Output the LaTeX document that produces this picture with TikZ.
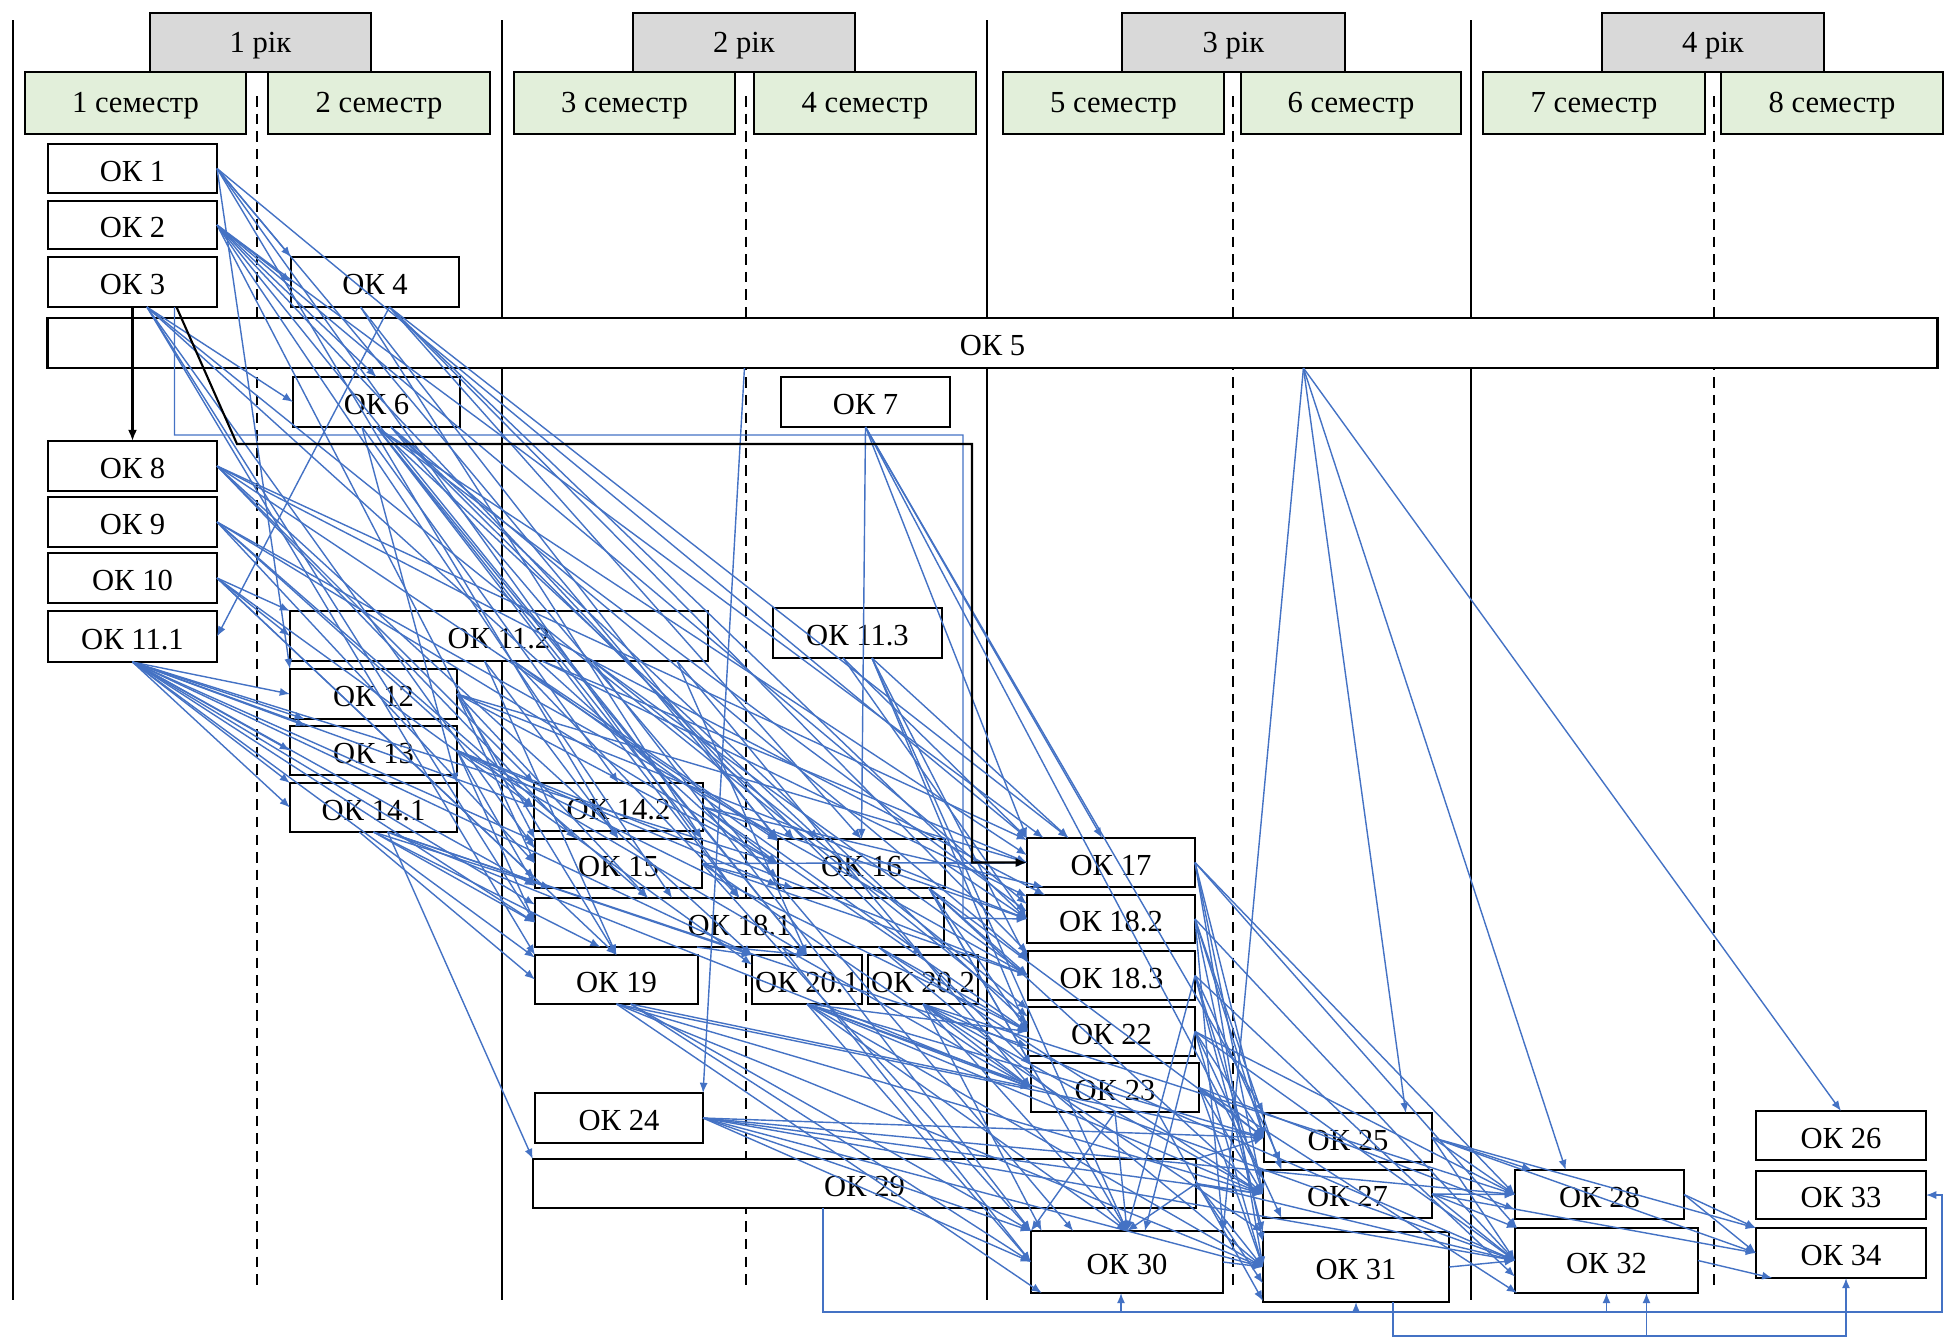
\documentclass[tikz,border=0pt]{standalone}
\usepackage{fontspec}
\setmainfont{Liberation Serif}
\usetikzlibrary{arrows.meta,calc}
\definecolor{bl}{HTML}{4472C4}
\definecolor{yr}{HTML}{D9D9D9}
\definecolor{sm}{HTML}{E2EFDA}
\newcommand\bx[7][]{\node[box,#1,minimum width={(#5-#3)*0.284528pt},minimum height={(#6-#4)*0.284528pt}] (#2) at ({(#3+#5)/2},{(#4+#6)/2}) {\raisebox{-0.8pt}[\height][\depth]{#7}};}
\begin{document}
\begin{tikzpicture}[x=0.01cm,y=-0.01cm,
  box/.style={draw=black,line width=0.7pt,fill=white,inner sep=0pt,outer sep=0pt,font=\fontsize{8.7}{10}\selectfont},
  yrbox/.style={fill=yr},
  smbox/.style={fill=sm,line width=0.8pt},
  colline/.style={line width=0.7pt},
  semline/.style={line width=0.7pt,dash pattern=on 3pt off 2pt},
  e/.style={draw=bl,line width=0.4pt,-{Latex[length=2.9pt,width=2.3pt]}},
  blk/.style={draw=black,line width=0.6pt,-{Latex[length=3.2pt,width=2.6pt]}}]
\useasboundingbox (0,0) rectangle (1948,1341);
% column lines
\foreach \x in {13,502,987,1471} \draw[colline] (\x,20) -- (\x,1300);
\foreach \x in {257,746,1233,1714} \draw[semline] (\x,96) -- (\x,1290);
% years
\bx[yrbox]{y1}{150}{13}{371}{72}{1 рік}
\bx[yrbox]{y2}{633}{13}{855}{72}{2 рік}
\bx[yrbox]{y3}{1122}{13}{1345}{72}{3 рік}
\bx[yrbox]{y4}{1602}{13}{1824}{72}{4 рік}
% semesters
\bx[smbox]{s1}{25}{72}{246}{134}{1 семестр}
\bx[smbox]{s2}{268}{72}{490}{134}{2 семестр}
\bx[smbox]{s3}{514}{72}{735}{134}{3 семестр}
\bx[smbox]{s4}{754}{72}{976}{134}{4 семестр}
\bx[smbox]{s5}{1003}{72}{1224}{134}{5 семестр}
\bx[smbox]{s6}{1241}{72}{1461}{134}{6 семестр}
\bx[smbox]{s7}{1483}{72}{1705}{134}{7 семестр}
\bx[smbox]{s8}{1721}{72}{1943}{134}{8 семестр}
% courses
\bx{ok1}{48}{144}{217}{193}{ОК 1}
\bx{ok2}{48}{201}{217}{249}{ОК 2}
\bx{ok3}{48}{257}{217}{307}{ОК 3}
\bx{ok4}{291}{257}{459}{307}{ОК 4}
\bx{ok5}{48}{318}{1937}{368}{ОК 5}
\bx{ok6}{293}{377}{460}{427}{ОК 6}
\bx{ok7}{781}{377}{950}{427}{ОК 7}
\bx{ok8}{48}{441}{217}{491}{ОК 8}
\bx{ok9}{48}{497}{217}{547}{ОК 9}
\bx{ok10}{48}{553}{217}{603}{ОК 10}
\bx{ok111}{48}{611}{217}{662}{ОК 11.1}
\bx{ok112}{290}{611}{708}{661}{ОК 11.2}
\bx{ok113}{773}{608}{942}{658}{ОК 11.3}
\bx{ok12}{290}{669}{457}{719}{ОК 12}
\bx{ok13}{290}{726}{457}{775}{ОК 13}
\bx{ok141}{290}{783}{457}{832}{ОК 14.1}
\bx{ok142}{534}{783}{703}{831}{ОК 14.2}
\bx{ok15}{535}{839}{702}{888}{ОК 15}
\bx{ok16}{778}{839}{945}{888}{ОК 16}
\bx{ok17}{1027}{838}{1195}{887}{ОК 17}
\bx{ok181}{535}{898}{944}{947}{ОК 18.1}
\bx{ok182}{1027}{895}{1195}{943}{ОК 18.2}
\bx{ok19}{535}{955}{698}{1004}{ОК 19}
\bx{ok201}{752}{955}{862}{1004}{ОК 20.1}
\bx{ok202}{868}{955}{978}{1004}{ОК 20.2}
\bx{ok183}{1028}{951}{1195}{1000}{ОК 18.3}
\bx{ok22}{1028}{1007}{1195}{1056}{ОК 22}
\bx{ok23}{1031}{1063}{1199}{1112}{ОК 23}
\bx{ok24}{535}{1093}{703}{1143}{ОК 24}
\bx{ok29}{533}{1159}{1196}{1208}{ОК 29}
\bx{ok30}{1031}{1231}{1223}{1293}{ОК 30}
\bx{ok25}{1264}{1113}{1432}{1162}{ОК 25}
\bx{ok27}{1263}{1170}{1432}{1218}{ОК 27}
\bx{ok31}{1263}{1232}{1449}{1302}{ОК 31}
\bx{ok28}{1515}{1170}{1684}{1219}{ОК 28}
\bx{ok32}{1515}{1228}{1698}{1293}{ОК 32}
\bx{ok26}{1756}{1111}{1926}{1160}{ОК 26}
\bx{ok33}{1756}{1171}{1926}{1219}{ОК 33}
\bx{ok34}{1756}{1228}{1926}{1278}{ОК 34}
% blue links
\foreach \a/\b in {
 ok1.east/ok4.north west, ok1.east/ok12.north west, ok1.east/ok15.north, ok1.east/ok16.north west, ok1.east/ok181.north, ok1.east/ok17.north west,
 ok2.east/ok4.west, ok2.east/ok6.north, ok2.east/ok15.north west, ok2.east/ok16.160, ok2.east/ok17.160, ok2.east/ok181.160, ok2.east/ok201.north, ok2.east/ok182.170,
 ok3.-60/ok6.west, ok3.-60/ok15.170, ok3.-60/ok181.west, ok3.-60/ok19.north west, ok3.-60/ok16.190, ok3.-60/ok22.170,
 ok4.-60/ok111.east, ok4.-60/ok16.north, ok4.-60/ok17.150, ok4.-60/ok182.west, ok4.-60/ok183.165, ok4.-120/ok15.north east, ok4.-120/ok16.165,
 ok6.south/ok15.north east, ok6.south/ok181.north, ok6.south/ok201.north, ok6.south/ok16.150, ok6.south/ok17.175, ok6.south/ok182.175,
 ok6.-60/ok183.170, ok6.-60/ok22.175, ok6.-60/ok23.165, ok6.-60/ok30.150, ok6.-120/ok141.north east, ok6.-120/ok142.north,
 ok7.south/ok16.north, ok7.south/ok17.north west, ok7.south/ok17.110, ok7.south/ok25.north west, ok7.south/ok27.170,
 ok8.east/ok15.150, ok8.east/ok16.165, ok8.east/ok17.165, ok8.east/ok182.160, ok8.east/ok201.north west, ok8.east/ok142.north west,
 ok9.east/ok15.west, ok9.east/ok181.165, ok9.east/ok16.west, ok9.east/ok183.west, ok9.east/ok142.west,
 ok10.east/ok112.north west, ok10.east/ok112.west, ok10.east/ok15.190, ok10.east/ok19.north, ok10.east/ok201.165,
 ok111.south/ok12.west, ok111.south/ok12.200, ok111.south/ok13.west, ok111.south/ok13.160, ok111.south/ok141.north west, ok111.south/ok141.west,
 ok111.south/ok142.west, ok111.south/ok15.165, ok111.south/ok15.195, ok111.south/ok181.175, ok111.south/ok181.west, ok111.south/ok19.165,
 ok111.south/ok16.west, ok111.south/ok201.north west,
 ok112.-120/ok15.north, ok112.-120/ok19.north, ok112.-60/ok16.north west, ok112.-60/ok181.north, ok112.-30/ok17.west, ok112.-30/ok182.165,
 ok112.-15/ok183.west, ok112.-15/ok22.165, ok112.-8/ok23.west, ok112.-8/ok201.north, ok112.-15/ok30.north west, ok112.-60/ok202.north,
 ok113.-120/ok17.north west, ok113.-120/ok182.west, ok113.-60/ok17.150, ok113.-60/ok22.west, ok113.-60/ok30.north, ok113.-60/ok183.170,
 ok12.east/ok15.west, ok12.east/ok181.165, ok12.east/ok16.west, ok12.east/ok17.west, ok12.east/ok19.north, ok12.east/ok182.west,
 ok13.east/ok15.195, ok13.east/ok181.west, ok13.east/ok16.195, ok13.east/ok183.west, ok13.east/ok22.west, ok13.east/ok201.north,
 ok141.-120/ok19.west, ok141.-60/ok29.north west, ok141.south/ok181.190, ok141.south/ok15.200, ok141.-60/ok201.north west,
 ok141.-60/ok22.190, ok141.-60/ok23.west, ok141.south/ok181.west,
 ok142.east/ok16.west, ok142.east/ok17.200, ok142.east/ok182.west, ok142.east/ok22.west,
 ok15.east/ok16.200, ok15.east/ok17.west, ok15.east/ok183.west, ok15.east/ok23.west, ok15.east/ok30.north west,
 ok16.east/ok17.west, ok16.east/ok182.west, ok16.-20/ok183.west, ok16.-20/ok22.west, ok16.-20/ok23.165, ok16.-20/ok30.north,
 ok16.-20/ok25.west, ok16.-20/ok27.west,
 ok181.-150/ok201.north west, ok181.-120/ok201.north, ok181.-30/ok23.west, ok181.-30/ok30.west, ok181.-10/ok31.west,
 ok181.-10/ok22.west, ok181.-10/ok27.west,
 ok19.-60/ok23.west, ok19.-60/ok30.west, ok19.-60/ok30.north west, ok19.south/ok31.west, ok19.south/ok27.west, ok19.south/ok25.west, ok19.south/ok30.200,
 ok201.south/ok22.west, ok201.south/ok23.west, ok201.south/ok30.north, ok201.south/ok31.west, ok201.south/ok27.west,
 ok201.south/ok25.west, ok201.south/ok32.west, ok201.south/ok30.west,
 ok202.south/ok23.west, ok202.south/ok30.north, ok202.south/ok31.north west, ok202.south/ok27.west, ok202.south/ok28.west,
 ok202.south/ok32.west, ok202.south/ok30.160,
 ok17.east/ok25.west, ok17.east/ok27.west, ok17.east/ok31.west, ok17.east/ok28.west, ok17.east/ok32.160,
 ok182.east/ok25.west, ok182.east/ok27.160, ok182.east/ok31.165, ok182.east/ok32.west, ok182.east/ok30.north east,
 ok183.east/ok25.200, ok183.east/ok27.west, ok183.east/ok31.north west, ok183.east/ok32.190, ok183.east/ok30.north,
 ok22.east/ok25.west, ok22.east/ok27.200, ok22.east/ok31.west, ok22.east/ok32.west, ok22.east/ok28.west, ok22.east/ok30.60,
 ok23.south/ok30.north, ok23.east/ok31.west, ok23.east/ok27.west, ok23.east/ok32.200, ok23.east/ok28.190, ok23.east/ok25.west,
 ok23.south/ok30.north west, ok23.-30/ok31.200,
 ok24.east/ok30.north west, ok24.east/ok30.west, ok24.east/ok25.west, ok24.east/ok27.west, ok24.east/ok31.west,
 ok24.east/ok32.west, ok24.east/ok28.west,
 ok29.east/ok30.north, ok29.east/ok31.west, ok29.east/ok27.west, ok29.east/ok32.west, ok29.north east/ok25.west, ok29.east/ok31.190,
 ok25.east/ok28.west, ok25.east/ok32.west, ok25.east/ok34.west, ok25.east/ok34.north west, ok25.east/ok28.160,
 ok27.east/ok28.west, ok27.east/ok32.west, ok27.east/ok34.west, ok27.east/ok32.160,
 ok28.east/ok34.west, ok28.east/ok34.north west, ok30.east/ok31.west, ok31.east/ok32.west, ok32.east/ok34.200
}{\draw[e] (\a) -- (\b);}
% links from OK 5
\coordinate (p5a) at ($(ok5.south west)+(1256,0)$);
\coordinate (p5b) at ($(ok5.south west)+(697,0)$);
\foreach \b in {ok30.north east, ok25.23, ok28.144, ok26.north} \draw[e] (p5a) -- (\b);
\draw[e] (p5b) -- (ok24.north east);
% blue bracket from OK 3 to OK 18.2
\draw[e] ($(ok3.south)+(42,0)$) -- ++(0,128) -| (963,918) -- (ok182.west);
% bottom buses
\coordinate (busB) at (0,1312);
\coordinate (busA) at (0,1336);
\coordinate (a29) at ($(ok29.south west)+(290,0)$);
\coordinate (a30) at ($(ok30.south)+(-6,0)$);
\coordinate (a31) at ($(ok31.south west)+(130,0)$);
\coordinate (a32) at ($(ok32.south)+(40,0)$);
\coordinate (a34) at ($(ok34.south)+(5,0)$);
\draw[e] (a29) |- (1942,1312) |- (ok33.east);
\draw[e] (a30 |- busB) -- (a30);
\draw[e] (ok31.south |- busB) -- (ok31.south);
\draw[e] (ok32.south |- busB) -- (ok32.south);
\draw[e] (a31) |- (a34 |- busA) -- (a34);
\draw[e] (a32 |- busA) -- (a32);
% black links
\draw[blk] (ok3.south) -- (ok8.north);
\draw[blk] ($(ok3.south)+(44,0)$) -- (237,444) -- (972,444) |- (ok17.west);
\end{tikzpicture}
\end{document}
